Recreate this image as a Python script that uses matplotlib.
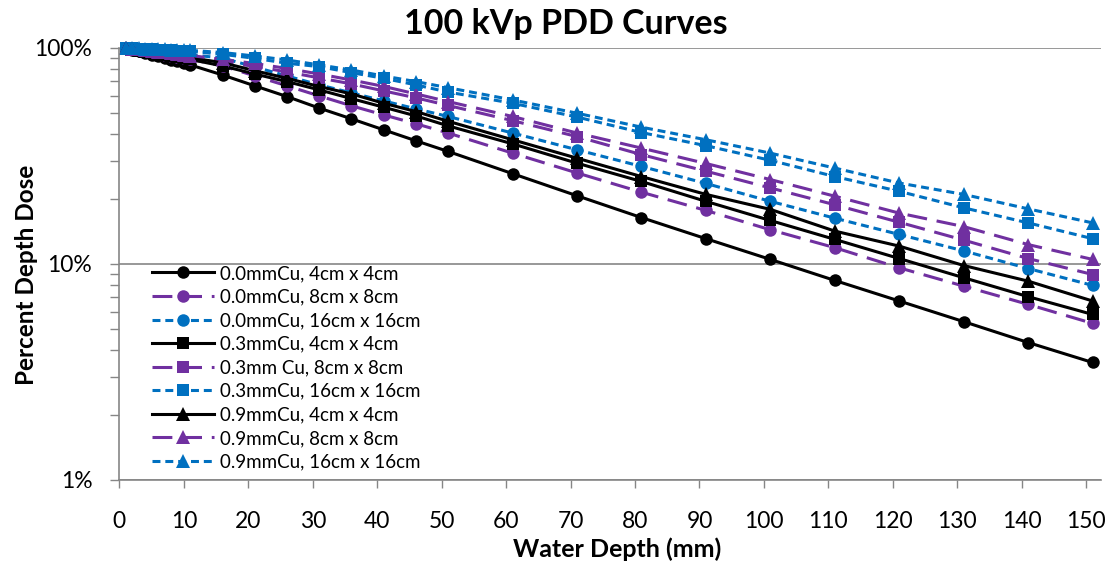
import matplotlib
matplotlib.use("Agg")
import matplotlib.pyplot as plt
from matplotlib.ticker import FixedLocator, LogLocator, NullFormatter, FuncFormatter

plt.rcParams['font.family'] = ['Lato', 'DejaVu Sans']

depth = [1, 2, 3, 4, 5, 6, 7, 8, 9, 10, 11,
         16, 21, 26, 31, 36, 41, 46, 51,
         61, 71, 81, 91, 101, 111, 121, 131, 141, 151]

cu00_4 = [100, 98.3, 96.6, 95.0, 93.3, 91.6, 90.0, 88.4, 86.8, 85.2, 83.5,
          75.0, 66.8, 59.6, 52.7, 47.0, 41.8, 37.2, 33.2,
          26.2, 20.7, 16.4, 13.1, 10.5, 8.39, 6.74, 5.41, 4.33, 3.50]
cu00_8 = [100, 98.9, 97.8, 96.6, 95.5, 94.4, 93.2, 92.1, 91.0, 89.8, 88.7,
          82.6, 74.3, 66.8, 60.0, 54.0, 49.0, 44.6, 40.4,
          32.6, 26.4, 21.5, 17.7, 14.4, 11.9, 9.60, 7.90, 6.50, 5.31]
cu00_16 = [100, 99.3, 98.6, 97.9, 97.2, 96.5, 95.8, 95.1, 94.4, 93.7, 93.0,
           89.9, 81.7, 74.2, 67.5, 62.0, 56.9, 52.3, 48.2,
           40.4, 33.8, 28.3, 23.6, 19.5, 16.3, 13.7, 11.5, 9.53, 7.96]
cu03_4 = [100, 98.9, 97.7, 96.6, 95.4, 94.3, 93.1, 92.0, 90.8, 89.7, 88.5,
          82.6, 75.8, 69.9, 64.0, 58.3, 53.2, 48.5, 43.6,
          36.0, 29.3, 24.1, 19.5, 15.9, 13.0, 10.6, 8.64, 7.06, 5.84]
cu03_8 = [100, 99.1, 98.2, 97.3, 96.4, 95.5, 94.6, 93.7, 92.8, 91.9, 91.0,
          86.2, 82.2, 77.5, 72.7, 68.2, 63.3, 58.8, 54.2,
          46.1, 38.9, 32.1, 26.9, 22.5, 18.8, 15.6, 12.9, 10.6, 8.94]
cu03_16 = [100, 99.6, 99.3, 98.9, 98.6, 98.2, 97.9, 97.5, 97.2, 96.8, 96.5,
           93.5, 89.6, 85.0, 82.0, 76.9, 72.4, 67.5, 62.5,
           55.5, 47.9, 40.6, 35.3, 30.2, 25.4, 21.7, 18.2, 15.5, 13.1]
cu09_4 = [100, 99.0, 98.0, 97.1, 96.1, 95.1, 94.1, 93.1, 92.2, 91.2, 90.2,
          85.5, 78.5, 72.4, 66.3, 61.3, 55.5, 50.8, 45.8,
          37.6, 30.9, 25.4, 21.0, 17.9, 14.2, 12.1, 9.84, 8.33, 6.74]
cu09_8 = [100, 99.2, 98.5, 97.7, 96.9, 96.2, 95.4, 94.6, 93.8, 93.1, 92.3,
          88.5, 84.8, 80.4, 75.8, 71.1, 66.4, 61.3, 56.5,
          48.2, 40.4, 34.4, 29.2, 24.6, 20.6, 17.2, 14.9, 12.3, 10.5]
cu09_16 = [100, 99.75, 99.5, 99.25, 99.0, 98.75, 98.5, 98.25, 98.0, 97.75, 97.5,
           95.3, 91.8, 88.0, 83.5, 79.1, 74.2, 69.9, 65.5,
           57.5, 49.9, 43.0, 37.6, 32.6, 27.8, 23.7, 21.0, 18.0, 15.5]

labels = ["0.0mmCu, 4cm x 4cm", "0.0mmCu, 8cm x 8cm", "0.0mmCu, 16cm x 16cm",
          "0.3mmCu, 4cm x 4cm", "0.3mm Cu, 8cm x 8cm", "0.3mmCu, 16cm x 16cm",
          "0.9mmCu, 4cm x 4cm", "0.9mmCu, 8cm x 8cm", "0.9mmCu, 16cm x 16cm"]
series = [cu00_4, cu00_8, cu00_16, cu03_4, cu03_8, cu03_16, cu09_4, cu09_8, cu09_16]

x_ticks = list(range(0, 151, 10))
y_ticks = [1, 10, 100]

BLACK = "#000000"
PURPLE = "#7030A0"
BLUE = "#0070C0"
colors = [BLACK, PURPLE, BLUE] * 3
markers = ['o'] * 3 + ['s'] * 3 + ['^'] * 3
msizes = [9] * 3 + [8.5] * 3 + [10] * 3
styles = ['-', (0, (6.5, 3.2)), (0, (2.6, 1.6))] * 3

fig = plt.figure(figsize=(11.14, 5.69), dpi=100)
L, R, T, B = 119.4, 1101, 48, 480
W, H = 1114, 569
ax = fig.add_axes([L / W, 1 - B / H, (R - L) / W, (B - T) / H])

for vals, c, m, ms, ls, lab in zip(series, colors, markers, msizes, styles, labels):
    ax.plot(depth, vals, color=c, marker=m, markersize=ms, linestyle=ls,
            linewidth=2.2, markeredgewidth=0, label=lab, clip_on=False)

ax.set_yscale('log')
ax.set_ylim(1, 100)
ax.set_xlim(0, 152.3)
ax.set_xticks(x_ticks)
ax.set_xticklabels([str(t) for t in x_ticks])
ax.yaxis.set_major_locator(FixedLocator(y_ticks))
ax.yaxis.set_major_formatter(FuncFormatter(lambda v, p: f"{v:.0f}%"))
ax.yaxis.set_minor_locator(LogLocator(base=10, subs=range(2, 10)))
ax.yaxis.set_minor_formatter(NullFormatter())

gray = "#868686"
ax.grid(True, axis='y', which='major', color=gray, linewidth=1.2)
ax.set_axisbelow(True)
for s in ['top', 'right']:
    ax.spines[s].set_visible(False)
for s in ['left', 'bottom']:
    ax.spines[s].set_color(gray)
    ax.spines[s].set_linewidth(1.2)

ax.tick_params(axis='y', which='both', direction='out', length=6.5, width=1.0,
               color=gray, labelsize=16.5, pad=13)
ax.tick_params(axis='x', which='both', direction='out', length=6, width=1.0,
               color=gray, labelsize=16.5, pad=16)

ax.set_xlabel("Water Depth (mm)", fontsize=18, fontweight='bold')
ax.xaxis.set_label_coords((617 - L) / (R - L), -(549 - B) / (B - T))
ax.xaxis.label.set_va('center')
ax.set_ylabel("Percent Depth Dose", fontsize=17.5, fontweight='bold')
ax.yaxis.set_label_coords((27 - L) / (R - L), 1 - (275 - T) / (B - T))
ax.yaxis.label.set_va('center')
fig.text(566 / W, 1 - 24 / H, "100 kVp PDD Curves", fontsize=24.5, fontweight='bold',
         ha='center', va='center')

leg = ax.legend(loc='upper left', bbox_to_anchor=(152 / W, 1 - 265 / H),
                bbox_transform=fig.transFigure, frameon=False, fontsize=13.5,
                borderpad=0, borderaxespad=0, handlelength=3.3, handletextpad=0.3,
                labelspacing=0.35, numpoints=1)

fig.savefig("out.png", dpi=100)
